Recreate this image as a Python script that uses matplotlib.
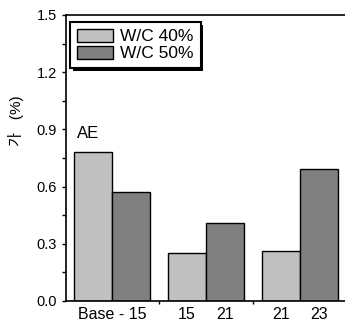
import numpy as np
import matplotlib
matplotlib.use("Agg")
import matplotlib.pyplot as plt

plt.rcParams['font.family'] = ['Liberation Sans', 'Noto Sans CJK KR', 'DejaVu Sans']

# air content per mix, two water/cement ratios
groups = [0, 1, 2]
wc40 = [0.78, 0.25, 0.26]
wc50 = [0.57, 0.41, 0.69]
series_names = ['W/C 40%', 'W/C 50%']
group_labels = [['Base - 15'], ['15', '21'], ['21', '23']]

x = np.array(groups, dtype=float)
w = 0.404

fig = plt.figure(figsize=(3.45, 3.25), dpi=100)
ax = fig.add_axes([66/345, 24/325, 1 - 66/345, 286/325])

ax.bar(x - w/2, wc40, w, color='#c0c0c0', edgecolor='black', linewidth=1.0, label=series_names[0])
ax.bar(x + w/2, wc50, w, color='#808080', edgecolor='black', linewidth=1.0, label=series_names[1])

ax.set_xlim(-0.489, 2.479)
ax.set_ylim(0, 1.5)
ax.set_yticks(np.arange(0, 1.51, 0.3))
ax.set_yticklabels(['%.1f' % v for v in np.arange(0, 1.51, 0.3)], fontsize=10.5)
ax.set_yticks(np.arange(0.15, 1.5, 0.3), minor=True)
ax.tick_params(axis='y', which='both', direction='out', length=3, width=1)

# group separators as ticks, labels written under each bar
ax.set_xticks([0.5, 1.5])
ax.set_xticklabels([])
ax.tick_params(axis='x', direction='out', length=2, width=1)
for gx, labs in zip(x, group_labels):
    if len(labs) == 1:
        pos = [gx]
    else:
        pos = [gx - w/2, gx + w/2]
    for p, lab in zip(pos, labs):
        ax.text(p, -0.02, lab, ha='center', va='top', fontsize=11.5,
                transform=ax.get_xaxis_transform())

ax.spines['right'].set_visible(False)
for s in ['left', 'top', 'bottom']:
    ax.spines[s].set_linewidth(1.2)

ax.text(-0.37, 0.88, 'AE', ha='left', va='center', fontsize=12)

ax.set_ylabel('가   (%)', fontsize=11)
ax.yaxis.set_label_coords(-0.15, 0.63)

leg = ax.legend(loc='upper left', bbox_to_anchor=(0.014, 0.976), fontsize=12.5,
                fancybox=False,
                shadow={'color': 'black', 'alpha': 1, 'linewidth': 0},
                edgecolor='black', framealpha=1,
                handlelength=2.1, handleheight=0.75, labelspacing=0.1,
                borderpad=0.4, handletextpad=0.4, borderaxespad=0)
leg.get_frame().set_linewidth(1.5)

fig.savefig('out.png', dpi=100)
